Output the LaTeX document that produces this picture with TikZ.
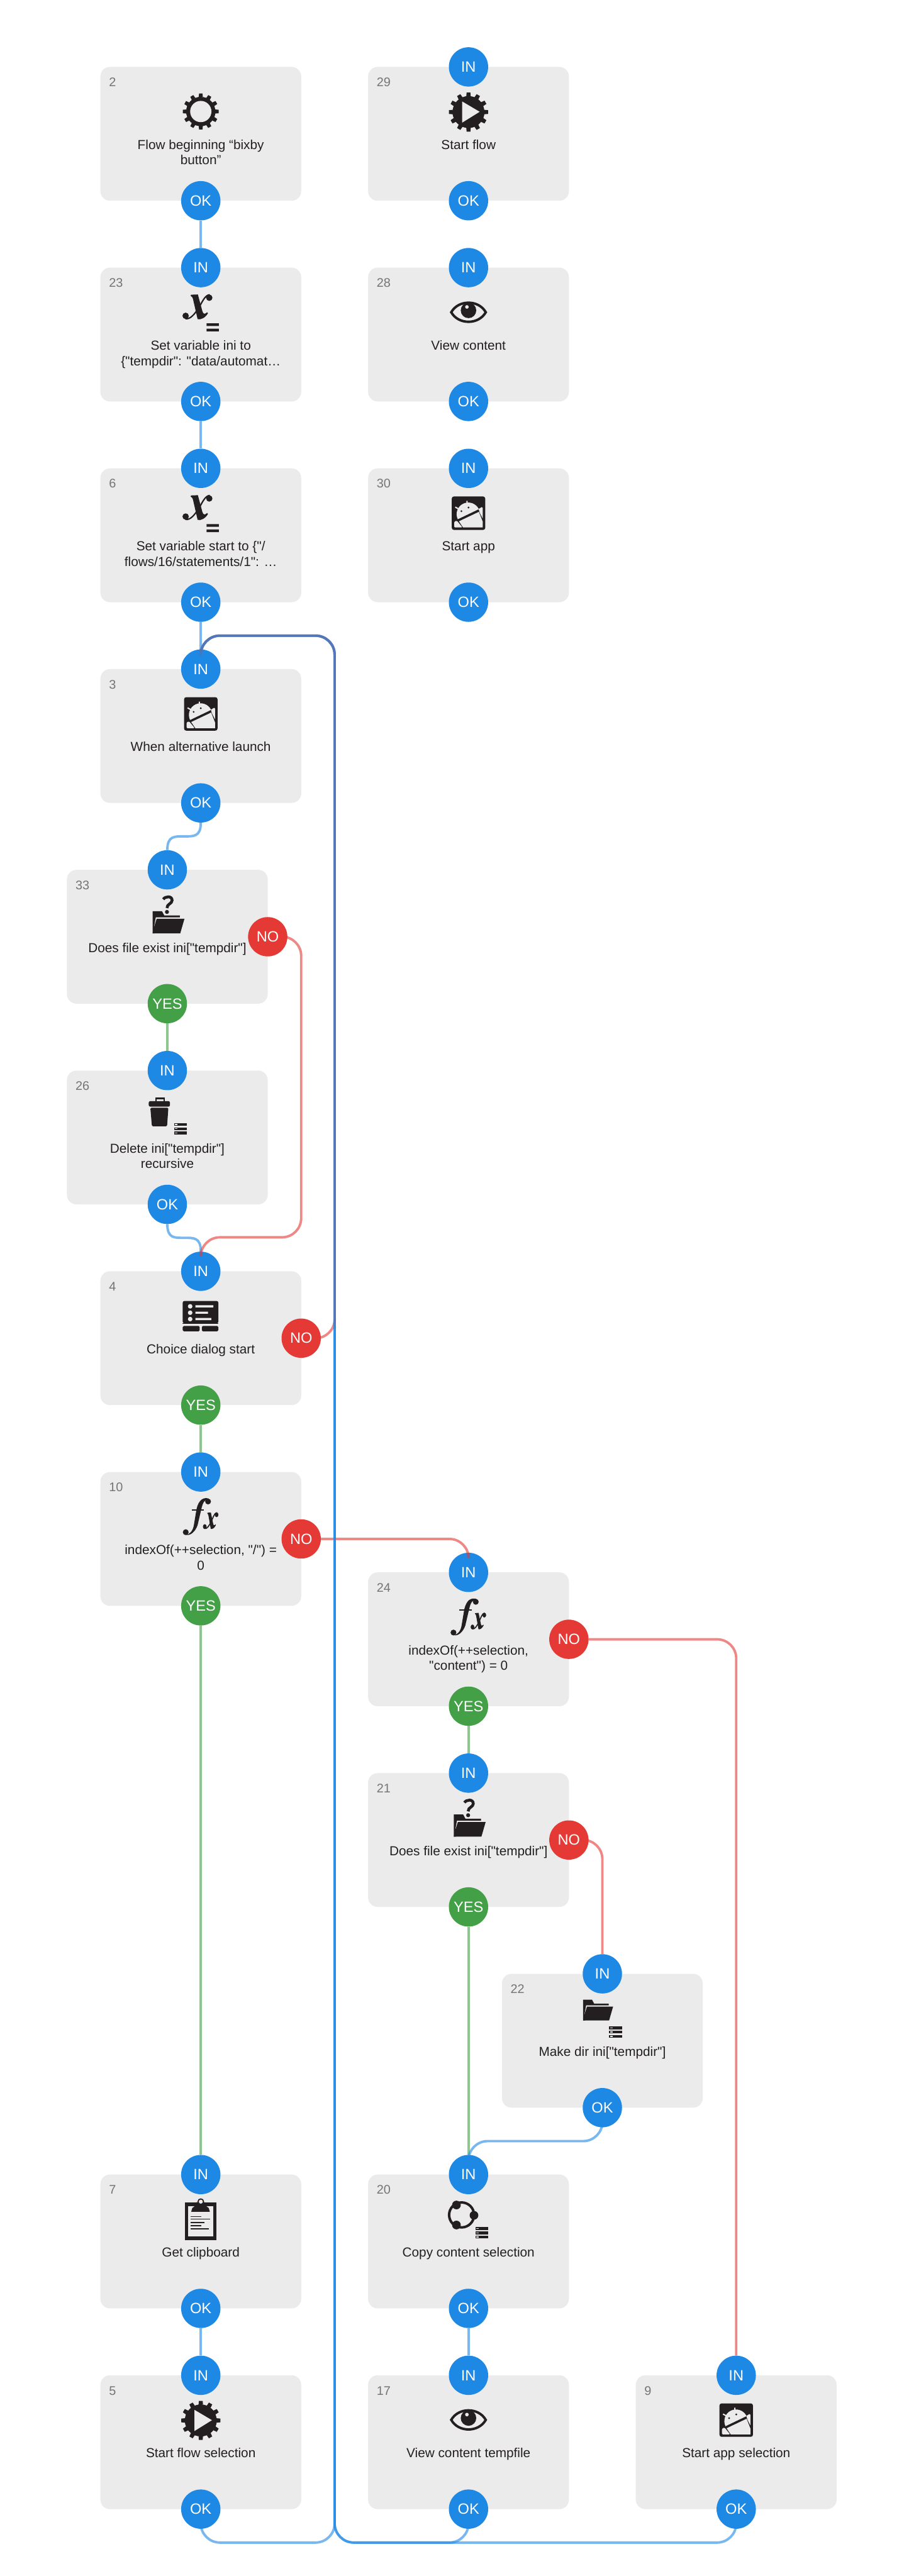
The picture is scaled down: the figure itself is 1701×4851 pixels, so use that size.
\documentclass[tikz,border=0pt]{standalone}
\usepackage{fontspec}
\usetikzlibrary{calc}
\newfontfamily\rbfont{Liberation Sans}
\definecolor{cBlue}{HTML}{1E88E5}
\definecolor{cRed}{HTML}{E53935}
\definecolor{cGreen}{HTML}{43A047}
\definecolor{cBox}{HTML}{ECEBEB}
\definecolor{cInk}{HTML}{231F20}
\definecolor{cNum}{HTML}{757575}
\tikzset{
  flowbox/.style={rectangle,rounded corners=18pt,fill=cBox,minimum width=378pt,minimum height=252pt,inner sep=0pt,draw=none},
  numlabel/.style={inner sep=0pt,text=cNum,font=\rbfont\fontsize{23.5}{28}\selectfont,anchor=base west},
  flowtext/.style={inner sep=0pt,text=cInk,align=center,anchor=north,font=\rbfont\fontsize{24.6}{29}\selectfont},
  portdot/.style={circle,minimum size=74pt,inner sep=0pt,text=white,font=\rbfont\fontsize{28}{30}\selectfont},
  inport/.style={portdot,fill=cBlue},
  okport/.style={portdot,fill=cBlue},
  yesport/.style={portdot,fill=cGreen},
  noport/.style={portdot,fill=cRed},
  blueline/.style={line width=4.6pt,draw=cBlue,draw opacity=.6},
  redline/.style={line width=4.6pt,draw=cRed,draw opacity=.6},
  greenline/.style={line width=4.6pt,draw=cGreen,draw opacity=.6},
  bend36/.style={rounded corners=36pt},
}
% --- icons: local coordinates, origin = (box centre x, box top)
\newcommand{\gearshape}[3]{% outer, root, cy
  \fill[cInk] (0,#3)
    \foreach \t in {0,30,...,330}{
      ++(0,0) -- ($(0,#3)+(\t-8:#2)$) -- ($(0,#3)+(\t-5.5:#1)$) -- ($(0,#3)+(\t+5.5:#1)$) -- ($(0,#3)+(\t+8:#2)$)
    } -- cycle;
  \fill[cInk] (0,#3) circle[radius=#2];
}
\newcommand{\iconGear}{\gearshape{34}{27.5}{84}\fill[cBox] (0,84) circle[radius=20];}
\newcommand{\iconGearPlay}{\gearshape{37}{30}{85}\fill[cBox] (-12,65) -- (21,84.5) -- (-12,105) -- cycle;}
\newcommand{\iconEye}{%
  \draw[cInk,line width=4.6pt,line join=miter,miter limit=4] (-32.5,84) .. controls (-19,60) and (19,60) .. (32.5,84) .. controls (19,108) and (-19,108) .. cycle;
  \fill[cInk] (0,80.5) circle[radius=14.6];
  \fill[cBox] (-3,74) circle[radius=3.4];}
\newcommand{\xshape}[2]{% ball radius, thin width
  \fill[cInk] (-19,53) -- (-18.5,51) -- (-5.5,50.5) -- (3,82) .. controls (4.5,88) and (8,88) .. (12,84) -- (13.5,86) .. controls (8,95) and (0,98.5) .. (-6,97) -- (-14,62) .. controls (-15,56) and (-17,54) .. (-19,53) -- cycle;
  \draw[cInk,line width=#2pt] (-29,96) .. controls (-20,98) and (-12,88) .. (-4,76) .. controls (2,66) and (8,51) .. (17,51);
  \fill[cInk] (-28.5,90.7) circle[radius=#1] (16,56.7) circle[radius=#1];}
\newcommand{\iconVar}{%
  \xshape{6}{2.6}
  \fill[cInk] (11,105) rectangle (34,110) (11,115) rectangle (34,120);}
\newcommand{\iconFx}{%
  \fill[cInk] (15,50) .. controls (5,47) and (-4,52) .. (-8,70) -- (-13,100) .. controls (-15,112) and (-22,118) .. (-28,118) .. controls (-20,121) and (-10,112) .. (-6,100) -- (1,70) .. controls (4,56) and (8,51) .. (15,52) -- cycle;
  \fill[cInk] (13.7,55.5) circle[radius=5.5] (-28.3,113.3) circle[radius=5.5];
  \fill[cInk] (-17.3,70) rectangle (6,72.6);
  \begin{scope}[shift={(18.5,91.5)},xscale=.5,yscale=.66,shift={(6.5,-73.5)}]
    \xshape{7}{2}
  \end{scope}}
\newcommand{\iconAndroid}{%
  \begin{scope}[shift={(0,84.4)}]
  \fill[cInk,rounded corners=4pt] (-31.5,-31.5) rectangle (31.5,31.5);
  \fill[cBox] (-20.2,11.4) .. controls (-25.4,0.5) and (-20.8,-12.7) .. (-9.9,-17.9) .. controls (1,-23.1) and (14.2,-18.5) .. (19.4,-7.6) -- cycle;
  \fill[cBox] (-18,15.3) -- (19.5,-2.5) -- (26.8,16) -- (26.8,26.8) -- (-10.3,26.8) -- cycle;
  \fill[cBox] (19.1,-8) -- (25,-11.5) -- (26.8,-10) -- (26.8,10) -- (21,-1) -- cycle;
  \fill[cBox,rounded corners=1.5pt] (-26.8,16) -- (-22,14) -- (-11.5,26.8) -- (-26.8,26.8) -- cycle;
  \draw[cBox,line width=2.4pt] (-2.7,-23.3) -- (-2.7,-15) (-24.9,-11.5) -- (-17,-7);
  \fill[cInk] (-13.4,-3.8) circle[radius=1.9] (0,-10.7) circle[radius=1.9];
  \end{scope}}
\newcommand{\folderat}[3]{% cx cy scale
  \begin{scope}[shift={(#1,#2)},scale=#3]
  \fill[cInk] (-30,-20.7) -- (-12.3,-20.7) -- (-8,-12.7) -- (21.3,-12.7) -- (21.3,-9.3) -- (-24,-9.3) -- (-27,6.7) -- (-26,21) -- (-30,21) -- cycle;
  \fill[cInk] (-22.3,-6.7) -- (30,-6.7) -- (22,21) -- (-30,21) -- (-26.7,7) -- cycle;
  \end{scope}}
\newcommand{\iconFolderQ}{%
  \folderat{2.3}{98.7}{1}
  \draw[cInk,line width=5.4pt] (-7.7,55.5) .. controls (-4,49.5) and (9,48.5) .. (9,57.5) .. controls (9,64) and (-.7,64) .. (-.7,72);
  \fill[cBox] (-.7,79.3) circle[radius=5.2];
  \fill[cInk] (-.7,79.3) circle[radius=3.8];}
\newcommand{\listicon}{%
  \foreach \yy in {99,107,115}{
    \fill[cInk] (13,\yy) rectangle (37,\yy+5.4);
    \fill[cBox] (14.6,\yy+1.9) rectangle (19,\yy+3.4);
  }}
\newcommand{\iconFolderList}{\folderat{-8}{68}{.94}\listicon}
\newcommand{\iconTrash}{%
  \draw[cInk,line width=3pt] (-21.5,58) -- (-21.5,52.5) -- (-6,52.5) -- (-6,58);
  \fill[cInk,rounded corners=3pt] (-35,57.5) rectangle (5,68);
  \fill[cInk,rounded corners=2pt] (-32,70) -- (2,70) -- (-.5,105) -- (-29,105) -- cycle;
  \listicon}
\newcommand{\iconDialog}{%
  \fill[cInk,rounded corners=3pt] (-34,56) -- (33,56) -- (33,70) -- (33,98) -- (-34,98) -- cycle;
  \fill[cInk] (-34,98) rectangle (33,98.5);
  \fill[cInk,rounded corners=2pt] (-34,103) rectangle (-2,113);
  \fill[cInk,rounded corners=2pt] (2,103) rectangle (33,113);
  \fill[cBox] (-20,66) circle[radius=4.3] (-20,78) circle[radius=4.3] (-20,90) circle[radius=4.3];
  \fill[cBox] (-10,64) rectangle (23.5,68) (-10,76) rectangle (13.6,80) (-10,88) rectangle (19.7,92);}
\newcommand{\iconCopy}{%
  \draw[cInk,line width=4.7pt] (-13,76) circle[radius=23.5];
  \fill[cInk] (10.3,76.7) circle[radius=8.2] (-22.7,57.3) circle[radius=8.2] (-22.7,95) circle[radius=8.2];
  \listicon}
\newcommand{\iconClip}{%
  \draw[cInk,line width=6pt] (-27,56) rectangle (26,120);
  \fill[cInk] (-18,70) -- (17,70) -- (15,63) -- (9,58.5) -- (7,52) -- (-8,52) -- (-10,58.5) -- (-16,63) -- cycle;
  \fill[cInk] (0,51) circle[radius=6.3];
  \fill[cBox] (0,51) circle[radius=3.8];
  \draw[cInk,line width=1.9pt] (-18.6,79) -- (1.5,79) (-18.6,84) -- (17,84) (-18.6,90) -- (7,90) (-18.6,96) -- (1.5,96) (-18.6,102) -- (15.5,102);}
\newcommand{\flownode}[6]{% id cx top num text icon
  \node[flowbox] (b#1) at (#2,#3+126) {};
  \node[numlabel] (b#1num) at (#2-173,#3+37) {#4};
  \node[flowtext] (b#1txt) at (#2,#3+135) {\rule{0pt}{20pt}#5};
  \begin{scope}[shift={(#2,#3)}]#6\end{scope}
}
\newcommand{\flowport}[5]{% name style x y label
  \node[#2] (#1) at (#3,#4) {#5};
}
\newcommand{\stdports}[3]{% id cx top
  \flowport{b#1in}{inport}{#2}{#3}{IN}
  \flowport{b#1ok}{okport}{#2}{#3+252}{OK}
}
\newcommand{\ifports}[3]{% id cx top
  \flowport{b#1in}{inport}{#2}{#3}{IN}
  \flowport{b#1yes}{yesport}{#2}{#3+252}{YES}
  \flowport{b#1no}{noport}{#2+189}{#3+126}{NO}
}
\begin{document}
\begin{tikzpicture}[x=1pt,y=-1pt]
\useasboundingbox (0,0) rectangle (1701,4851);
\fill[white] (0,0) rectangle (1701,4851);
% column one
\flownode{2}{378}{126}{2}{Flow beginning “bixby\\button”}{\iconGear}
\flowport{b2ok}{okport}{378}{378}{OK}
\flownode{23}{378}{504}{23}{Set variable ini to\\\{"tempdir": "data/automat…}{\iconVar}
\stdports{23}{378}{504}
\flownode{6}{378}{882}{6}{Set variable start to \{"/\\flows/16/statements/1": …}{\iconVar}
\stdports{6}{378}{882}
\flownode{3}{378}{1260}{3}{When alternative launch}{\iconAndroid}
\stdports{3}{378}{1260}
\flownode{33}{315}{1638}{33}{Does file exist ini["tempdir"]}{\iconFolderQ}
\ifports{33}{315}{1638}
\flownode{26}{315}{2016}{26}{Delete ini["tempdir"]\\recursive}{\iconTrash}
\stdports{26}{315}{2016}
\flownode{4}{378}{2394}{4}{Choice dialog start}{\iconDialog}
\ifports{4}{378}{2394}
\flownode{10}{378}{2772}{10}{indexOf(++selection, "/") =\\0}{\iconFx}
\ifports{10}{378}{2772}
\flownode{7}{378}{4095}{7}{Get clipboard}{\iconClip}
\stdports{7}{378}{4095}
\flownode{5}{378}{4473}{5}{Start flow selection}{\iconGearPlay}
\stdports{5}{378}{4473}
% column two
\flownode{29}{882}{126}{29}{Start flow}{\iconGearPlay}
\stdports{29}{882}{126}
\flownode{28}{882}{504}{28}{View content}{\iconEye}
\stdports{28}{882}{504}
\flownode{30}{882}{882}{30}{Start app}{\iconAndroid}
\stdports{30}{882}{882}
\flownode{24}{882}{2961}{24}{indexOf(++selection,\\"content") = 0}{\iconFx}
\ifports{24}{882}{2961}
\flownode{21}{882}{3339}{21}{Does file exist ini["tempdir"]}{\iconFolderQ}
\ifports{21}{882}{3339}
\flownode{22}{1134}{3717}{22}{Make dir ini["tempdir"]}{\iconFolderList}
\stdports{22}{1134}{3717}
\flownode{20}{882}{4095}{20}{Copy content selection}{\iconCopy}
\stdports{20}{882}{4095}
\flownode{17}{882}{4473}{17}{View content tempfile}{\iconEye}
\stdports{17}{882}{4473}
\flownode{9}{1386}{4473}{9}{Start app selection}{\iconAndroid}
\stdports{9}{1386}{4473}
% way points
\coordinate (wtop) at (630,1197);
\coordinate (wbot) at (630,4788);
\coordinate (wred33) at (567,2330);
\coordinate (wok22) at (1000,4032);
% connectors
\draw[blueline] (b2ok.south) -- (b23in.north);
\draw[blueline] (b23ok.south) -- (b6in.north);
\draw[blueline] (b6ok.south) -- (b3in.north);
\draw[blueline] (b3ok.south) .. controls +(0,27) and +(18,0) .. ($(b3ok.south)!.5!(b33in.north)$) .. controls +(-18,0) and +(0,-27) .. (b33in.north);
\draw[greenline] (b33yes.south) -- (b26in.north);
\draw[blueline] (b26ok.south) .. controls +(0,27) and +(-18,0) .. ($(b26ok.south)!.5!(b4in.north)$) .. controls +(18,0) and +(0,-27) .. (b4in.north);
\draw[redline,bend36] (b33no.east) -| (wred33) -| (b4in.north);
\draw[greenline] (b4yes.south) -- (b10in.north);
\draw[greenline] (b10yes.south) -- (b7in.north);
\draw[redline,bend36] (b10no.east) -| (b24in.north);
\draw[greenline] (b24yes.south) -- (b21in.north);
\draw[redline,bend36] (b24no.east) -| (b9in.north);
\draw[redline,bend36] (b21no.east) -| (b22in.north);
\draw[greenline] (b21yes.south) -- (b20in.north);
\draw[blueline,bend36] (b22ok.south) |- (wok22) -| (b20in.north);
\draw[blueline] (b7ok.south) -- (b5in.north);
\draw[blueline] (b20ok.south) -- (b17in.north);
\draw[blueline,bend36] (b5ok.south) |- (wbot) -- (wtop) -| (b3in.north);
\draw[blueline,bend36] (b9ok.south) |- (wbot) -- (wtop) -| (b3in.north);
\draw[redline,bend36] (b4no.east) -| (wtop) -| (b3in.north);
\draw[blueline,bend36] (b17ok.south) |- (wbot) -- (wtop) -| (b3in.north);
\end{tikzpicture}
\end{document}
